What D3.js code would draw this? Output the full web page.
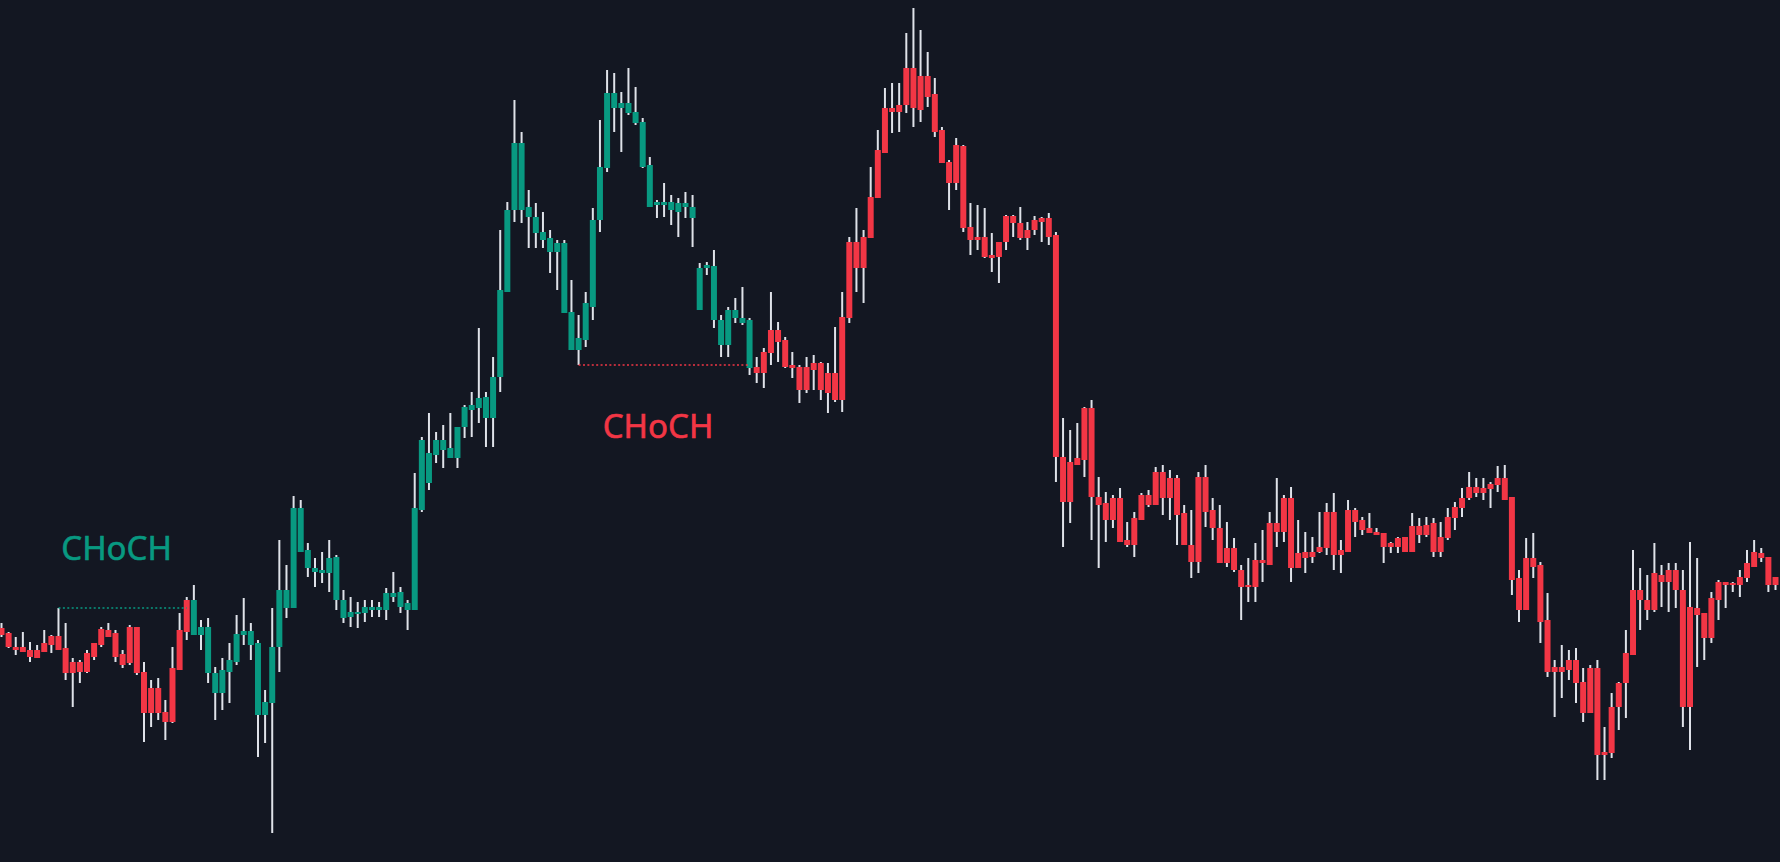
<!DOCTYPE html>
<html>
<head>
<meta charset="utf-8">
<script src="https://cdn.jsdelivr.net/npm/d3@7"></script>
<style>
  html, body { margin: 0; padding: 0; background: #131722; overflow: hidden; }
</style>
</head>
<body>
<div id="chart"></div>
<script>
// OHLC, oldest candle first
var open = [
    234,229,215,210,212,204,210,217,226,214, 189,200,190,205,217,232,229,208,199,235,
    190,149,174,150,140,192,230,262,227,235, 189,169,190,200,227,231,219,147,159,215,
    272,254,354,312,294,289,289,305,262,245, 250,249,255,252,252,269,270,259,252,352,
    409,407,422,414,404,435,452,454,465,444, 485,570,652,719,655,645,630,624,610,619,
    550,512,522,555,642,694,769,754,759,750, 740,697,657,660,660,650,659,655,594,594,
    596,542,517,552,544,542,495,489,509,532, 522,494,495,472,492,499,469,489,462,544,
    620,594,624,664,709,754,750,757,794,752, 786,768,732,700,679,716,635,622,625,607,
    605,620,646,639,624,632,640,644,627,405, 360,397,402,454,365,359,342,364,322,317,
    342,367,357,390,364,384,349,317,300,385, 352,334,299,314,292,275,275,302,297,339,
    330,364,294,310,305,310,314,350,307,310, 352,342,334,330,329,315,315,325,310,336,
    327,339,310,324,344,354,364,375,369,373, 377,384,365,284,252,304,297,242,190,195,
    192,202,180,149,194,107,109,155,179,207, 272,262,252,287,280,292,272,155,254,249,
    224,262,280,277,277,284,295,309,305,277
]
var high = [
    239,230,225,230,220,217,232,227,254,239, 204,202,212,219,235,239,232,212,237,235,
    200,182,184,162,215,249,265,277,242,244, 195,204,219,247,264,239,222,172,254,322,
    297,366,362,319,304,310,322,307,272,265, 260,262,262,260,274,290,275,262,389,425,
    449,430,437,449,435,457,470,534,470,505, 632,660,762,730,672,659,650,632,622,622,
    582,547,570,654,742,792,789,770,794,775, 744,705,662,679,667,664,670,667,599,600,
    612,547,555,564,575,544,505,514,570,540, 525,510,497,505,507,500,499,535,570,625,
    654,632,695,732,774,779,779,829,854,832, 810,784,735,702,724,717,659,657,654,629,
    620,647,647,655,640,646,645,649,630,444, 432,439,455,462,385,370,367,374,340,350,
    369,372,395,397,392,387,357,352,390,397, 364,357,340,324,297,304,319,332,350,384,
    367,375,342,330,325,350,359,369,322,362, 354,345,349,334,329,320,325,325,349,344,
    345,344,340,354,360,374,390,384,384,380, 396,397,365,292,324,329,300,269,202,217,
    212,214,194,197,202,135,169,180,232,312, 294,287,319,297,299,299,292,320,304,249,
    270,282,280,280,292,312,322,314,305,285
]
var low = [
    225,214,207,210,200,204,210,209,212,182, 155,179,189,202,215,225,200,194,197,187,
    120,135,142,122,139,192,222,227,212,179, 142,152,159,197,217,202,105,119,29,190,
    244,254,310,285,275,279,270,252,239,235, 234,240,245,245,242,260,249,232,252,350,
    372,399,394,404,394,424,425,439,415,415, 470,570,640,639,614,614,614,589,572,549,
    512,497,515,542,630,690,730,710,747,737, 694,655,644,645,637,625,644,615,552,587,
    534,505,505,539,537,487,479,474,497,500, 494,484,459,469,472,462,449,460,450,539,
    570,559,624,664,709,729,730,749,735,740, 755,725,699,652,672,630,607,612,604,590,
    579,612,625,622,612,627,620,617,380,315, 339,397,385,322,294,320,334,320,315,305,
    342,355,357,347,342,317,317,284,289,335, 322,299,295,290,242,260,260,280,297,315,
    320,280,294,289,299,309,307,292,289,310, 325,327,329,327,299,309,309,310,310,319,
    325,305,305,322,332,345,362,365,362,354, 370,362,267,240,252,284,219,185,145,164,
    182,159,140,149,82,82,104,132,144,207, 232,242,250,255,250,254,135,112,195,202,
    219,242,254,270,265,280,295,300,270,272
]
var close = [
    227,215,212,215,205,212,219,226,212,189, 200,190,209,219,233,225,205,197,235,189,
    149,174,149,140,194,232,262,227,235,189, 169,192,202,228,231,217,147,160,215,272,
    254,354,310,294,290,292,304,262,244,250, 249,255,252,255,269,265,255,252,354,422,
    379,422,412,404,435,455,457,464,444,485, 572,652,719,652,645,629,622,610,619,549,
    512,524,559,642,695,769,754,759,749,739, 695,655,660,657,652,659,655,644,552,597,
    542,517,552,544,539,494,489,510,532,520, 495,497,472,495,499,472,489,462,545,620,
    594,625,665,712,754,750,757,794,754,786, 765,730,699,679,717,634,622,625,605,604,
    620,646,639,624,632,642,644,625,405,360, 400,404,454,365,357,342,364,320,317,344,
    367,357,390,364,384,347,317,300,385,350, 334,299,314,292,275,277,302,299,339,330,
    364,294,309,304,310,315,350,307,312,352, 340,332,329,327,315,319,324,310,336,327,
    337,310,325,345,355,364,375,369,374,378, 384,362,282,252,304,295,240,190,195,190,
    202,179,149,194,107,110,155,179,209,272, 262,252,289,280,292,272,155,255,247,224,
    264,280,277,279,285,299,310,304,277,285
]

// change of character: candle that made the level -> candle that broke it
var chochFrom = [8, 81]
var chochTo = [26, 105]
var chochLevel = [254, 497]
var chochDir = ["bull", "bear"]
var chochText = ["CHoCH", "CHoCH"]

var width = 1780,
    height = 862

var green = "#089981",
    red = "#f23645",
    wick = "#dfe2e9"

var svg = d3.select("#chart")
    .append("svg")
    .attr("width", width)
    .attr("height", height)
    .style("display", "block")

svg.append("rect")
    .attr("width", width)
    .attr("height", height)
    .style("fill", "#131722")

var idx = d3.range(open.length)

var x = d3.scaleBand()
    .domain(idx)
    .range([-1.5, width - 1.5])
    .paddingInner(0.16)
    .paddingOuter(0)

var y = d3.scaleLinear()
    .domain([0, height])
    .range([height, 0])

var bw = x.bandwidth()

// trend after each break decides the candle colour
var trend = idx.map(function (i) {
    var t = "bear"
    for (var k = 0; k < chochTo.length; k++) {
        if (i > chochTo[k]) t = chochDir[k]
    }
    return t
})

// wicks
svg.append("g")
    .selectAll("line")
    .data(idx)
    .enter()
    .append("line")
    .attr("x1", function (i) { return x(i) + bw / 2 })
    .attr("x2", function (i) { return x(i) + bw / 2 })
    .attr("y1", function (i) { return y(high[i]) })
    .attr("y2", function (i) { return y(low[i]) })
    .style("stroke", wick)
    .style("stroke-width", 2)

// bodies
svg.append("g")
    .selectAll("rect")
    .data(idx)
    .enter()
    .append("rect")
    .attr("x", function (i) { return x(i) })
    .attr("width", bw)
    .attr("y", function (i) { return y(Math.max(open[i], close[i])) })
    .attr("height", function (i) { return Math.max(2, Math.abs(y(open[i]) - y(close[i]))) })
    .style("fill", function (i) { return trend[i] == "bull" ? green : red })

// CHoCH levels and labels
chochFrom.forEach(function (f, k) {
    var col = chochDir[k] == "bull" ? green : red
    var x1 = x(f) + bw / 2,
        x2 = x(chochTo[k]) + bw / 2,
        ly = y(chochLevel[k])

    svg.append("line")
        .attr("x1", x1)
        .attr("x2", x2)
        .attr("y1", ly)
        .attr("y2", ly)
        .style("stroke", col)
        .style("stroke-width", 1.3)
        .style("stroke-dasharray", "2,2.4")

    svg.append("text")
        .attr("x", (x1 + x2) / 2 - 6)
        .attr("y", chochDir[k] == "bull" ? ly - 48 : ly + 73)
        .attr("text-anchor", "middle")
        .style("font-family", "'Noto Sans', sans-serif")
        .style("font-size", "33px")
        .style("fill", col)
        .style("stroke", col)
        .style("stroke-width", 0.6)
        .text(chochText[k])
})
</script>
</body>
</html>
